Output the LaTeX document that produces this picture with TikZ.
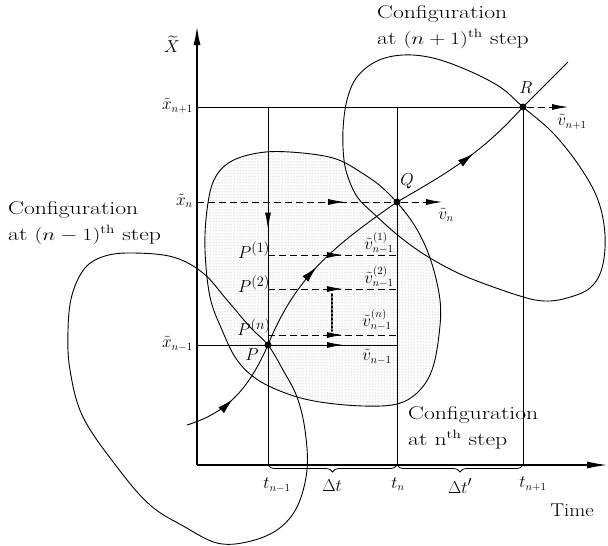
\documentclass[tikz,border=0pt]{standalone}
\usepackage{amsmath}
\usetikzlibrary{arrows.meta,decorations.markings,decorations.pathreplacing,patterns}
\newcommand{\wtext}[1]{\scalebox{1.28}[1]{#1}}
\begin{document}
\begin{tikzpicture}[x=1pt,y=-1pt,
  axisline/.style={line width=1.1pt},
  gridline/.style={line width=0.8pt},
  dshline/.style={line width=0.8pt, dash pattern=on 7pt off 4pt},
  blobline/.style={line width=0.9pt},
  cfg/.style={font=\fontsize{18.5}{26}\selectfont, align=left, inner sep=0pt},
  lab/.style={font=\fontsize{19}{22}\selectfont, inner sep=0pt},
  smalllab/.style={font=\fontsize{16}{18}\selectfont, inner sep=0pt},
  dotnode/.style={circle, fill=black, inner sep=0pt, minimum size=7pt},
  midarrow/.style={postaction={decorate, decoration={markings,
     mark=at position #1 with {\arrow{Latex[length=16pt,width=6pt]}}}}},
  traj/.style={line width=0.9pt, postaction={decorate, decoration={markings,
     mark=at position #1 with {\arrow{Latex[length=16pt,width=8pt]}}}}},
  bracestyle/.style={decorate, decoration={brace, mirror, amplitude=7pt}, line width=0.8pt}
]
\useasboundingbox (0,0) rectangle (608,546);

% coordinates
\coordinate (O) at (197,465);
\coordinate (Ytop) at (197,27);
\coordinate (Xend) at (607,465);
\coordinate (yn1) at (197,107);
\coordinate (yn) at (197,202);
\coordinate (ym) at (197,345);
\coordinate (tm) at (268,465);
\coordinate (tn) at (397,465);
\coordinate (tp) at (523,465);
\coordinate (tmT) at (268,107);
\coordinate (tnT) at (397,107);
\coordinate (P1) at (268,255);
\coordinate (P2) at (268,289);
\coordinate (Pn) at (268,335);
\coordinate (e1) at (397,255);
\coordinate (e2) at (397,289);
\coordinate (en) at (397,335);
\coordinate (ePm) at (397,345);
\coordinate (dotA) at (332,294);
\coordinate (dotB) at (332,331);
\coordinate (vnTip) at (442,202);
\coordinate (vn1Tip) at (568,107);
\coordinate (trS) at (187,425);
\coordinate (trE) at (568,62);

% shaded configuration at n-th step
\draw[blobline, pattern=dots, pattern color=gray!75]
  plot[smooth cycle, tension=0.6] coordinates {
  (290,152) (333,158) (362,173) (387,192) (413,223) (430,258) (440,300)
  (439,335) (432,370) (418,392) (397,404) (363,406) (320,402) (288,394)
  (258,380) (237,360) (222,330) (210,297) (205,250) (207,210) (214,180)
  (230,162) (258,153)};

% configuration at (n-1)-th step
\draw[blobline] plot[smooth cycle, tension=0.6] coordinates {
  (133,253) (173,257) (203,273) (227,300) (250,327) (268,345) (283,370)
  (297,397) (305,430) (307,470) (297,507) (277,530) (247,542) (217,543)
  (185,527) (150,505) (117,467) (83,417) (70,370) (68,330) (72,295)
  (85,268) (105,256)};

% configuration at (n+1)-th step
\draw[blobline] plot[smooth cycle, tension=0.6] coordinates {
  (403,55) (433,58) (467,70) (500,87) (523,107) (553,133) (580,167)
  (598,200) (605,235) (602,268) (590,288) (567,298) (545,301) (520,296)
  (467,277) (430,258) (400,237) (373,213) (358,198) (349,180) (344,160)
  (343,130) (347,100) (357,77) (377,61)};

% axes
\draw[axisline, -{Latex[length=18pt,width=7pt]}] (O) -- (Ytop);
\draw[axisline, -{Latex[length=20pt,width=7pt]}] (O) -- (Xend);

% grid lines
\draw[gridline] (yn1) -- (523,107);
\draw[gridline, midarrow=0.34] (tmT) -- (tm);
\draw[gridline] (tnT) -- (tn);
\draw[gridline] (523,107) -- (tp);

% dots
\node[dotnode] (P) at (268,345) {};
\node[dotnode] (Q) at (397,202) {};
\node[dotnode] (R) at (523,107) {};

% horizontal velocity lines
\draw[dshline, midarrow=0.75] (yn) -- (Q);
\draw[dshline, -{Latex[length=16pt,width=6pt]}] (Q) -- (vnTip);
\draw[dshline, -{Latex[length=16pt,width=6pt]}] (R) -- (vn1Tip);
\draw[dshline, midarrow=0.58] (P1) -- (e1);
\draw[dshline, midarrow=0.58] (P2) -- (e2);
\draw[dshline, midarrow=0.58] (Pn) -- (en);
\draw[gridline, midarrow=0.73] (ym) -- (ePm);
\draw[line width=2pt, dotted, line cap=round] (dotA) -- (dotB);

% trajectory
\draw[traj=0.45] (trS) to[out=17,in=246] (P.center);
\draw[traj=0.47] (P.center) to[out=68,in=215] (Q.center);
\draw[traj=0.57] (Q.center) to[out=30,in=228] (R.center);
\draw[line width=0.9pt] (R.center) -- (trE);

% braces
\draw[bracestyle] (tm) -- (tn);
\draw[bracestyle] (tn) -- (tp);

% labels
\node[lab] (lX) at (172,44) {$\widetilde{X}$};
\node[smalllab, anchor=east] (lxn1) at (193,106) {$\tilde{x}_{n+1}$};
\node[smalllab, anchor=east] (lxn) at (193,201) {$\tilde{x}_{n}$};
\node[smalllab, anchor=east] (lxm) at (193,344) {$\tilde{x}_{n-1}$};

\node[lab] (lQ) at (407,181) {$Q$};
\node[lab] (lR) at (526,88) {$R$};
\node[lab] (lP1) at (254,250) {$P^{(1)}$};
\node[lab] (lP2) at (254,284) {$P^{(2)}$};
\node[lab] (lPn) at (254,327) {$P^{(n)}$};
\node[lab] (lP) at (252,355) {$P$};

\node[smalllab] (lv1) at (379,243) {$\tilde{v}^{(1)}_{n-1}$};
\node[smalllab] (lv2) at (379,277) {$\tilde{v}^{(2)}_{n-1}$};
\node[smalllab] (lvn) at (377,320) {$\tilde{v}^{(n)}_{n-1}$};
\node[smalllab] (lvm) at (377,357) {$\tilde{v}_{n-1}$};
\node[smalllab] (lvq) at (446,215) {$\tilde{v}_{n}$};
\node[smalllab] (lvr) at (572,122) {$\tilde{v}_{n+1}$};

\node[smalllab] (ltm) at (277,485) {$t_{n-1}$};
\node[lab] (ldt) at (332,486) {$\Delta t$};
\node[smalllab] (ltn) at (398,484) {$t_{n}$};
\node[lab] (ldt2) at (460,486) {$\Delta t'$};
\node[smalllab] (ltp) at (533,484) {$t_{n+1}$};
\node[cfg] (ltime) at (572,510) {\scalebox{1.12}[1]{Time}};

\node[cfg, anchor=north west] (cfgTop) at (377,5)
  {\wtext{Configuration}\\\wtext{at $(n+1)^{\mathrm{th}}$ step}};
\node[cfg, anchor=north west] (cfgLeft) at (8,201)
  {\wtext{Configuration}\\\wtext{at $(n-1)^{\mathrm{th}}$ step}};
\node[cfg, anchor=north west] (cfgBot) at (408,406)
  {\wtext{Configuration}\\\wtext{at n$^{\mathrm{th}}$ step}};
\end{tikzpicture}
\end{document}
